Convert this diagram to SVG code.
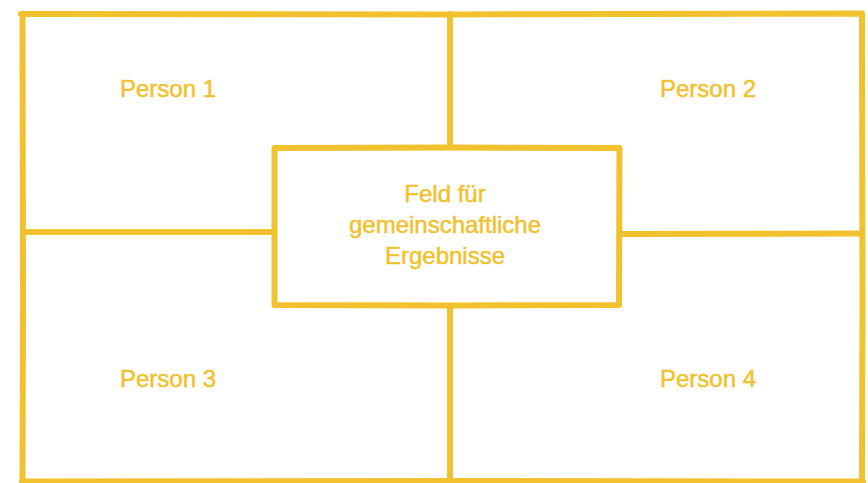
<svg xmlns="http://www.w3.org/2000/svg" width="868" height="483" viewBox="0 0 868 483">
<style>
.ln{stroke:#F2C12E;stroke-width:6;stroke-linecap:round;stroke-linejoin:round;fill:none}
.lbl{font-family:"Liberation Sans",Arial,sans-serif;font-size:24px;fill:#F2C12E;stroke:#F2C12E;stroke-width:0.5;text-anchor:middle}
</style>
<rect width="868" height="483" fill="#fff"/>
<g id="connectors">
<path class="ln" d="M21 14 L450 14.5 L862 13.5 L862.5 300 L862 486"/>
<path class="ln" d="M22.5 486 L23 300 L22.5 14"/>
<path class="ln" d="M22 481.5 L450 481 L863 481.5"/>
<path class="ln" d="M450 14 L450 148"/>
<path class="ln" d="M450 305 L450 482"/>
<path class="ln" d="M23 232 L274 232"/>
<path class="ln" d="M619 234 L862 233.5"/>
</g>
<g id="person1"><text class="lbl" x="168" y="97">Person 1</text></g>
<g id="person2"><text class="lbl" x="708" y="97">Person 2</text></g>
<g id="person3"><text class="lbl" x="168" y="387">Person 3</text></g>
<g id="person4"><text class="lbl" x="708" y="387">Person 4</text></g>
<g id="center">
<rect x="274.5" y="148.5" width="345" height="156.5" fill="#fff"/>
<path class="ln" d="M274.5 148 L450 147.5 L619.5 148 L619 305 L450 305.5 L274.5 305 Z"/>
<text class="lbl" x="445" y="202">Feld für</text>
<text class="lbl" x="445" y="233">gemeinschaftliche</text>
<text class="lbl" x="445" y="264">Ergebnisse</text>
</g>
</svg>
